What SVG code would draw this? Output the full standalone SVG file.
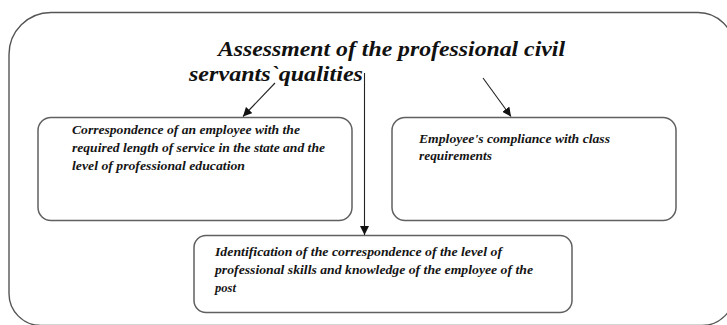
<svg xmlns="http://www.w3.org/2000/svg" width="727" height="325" viewBox="0 0 727 325">
  <style>
    .frame { fill: none; stroke: #555; stroke-width: 1.4; }
    .box { fill: #fff; stroke: #606060; stroke-width: 1.5; }
    .title { font-family: "Liberation Serif", "Times New Roman", serif; font-style: italic; font-weight: bold; font-size: 22px; fill: #111; }
    .label { font-family: "Liberation Serif", "Times New Roman", serif; font-style: italic; font-weight: bold; font-size: 13px; fill: #151515; }
    .conn { fill: none; stroke: #222; stroke-width: 1.1; }
  </style>
  <defs>
    <marker id="head" viewBox="0 0 10 10" refX="10" refY="5" markerWidth="9" markerHeight="9" markerUnits="userSpaceOnUse" orient="auto">
      <path d="M0,0 L10,5 L0,10 z" fill="#111"/>
    </marker>
  </defs>

  <rect width="727" height="325" fill="#fff"/>

  <!-- outer frame, running past the right and bottom edges -->
  <path class="frame" d="M 51 12.5 H 698 A 36 36 0 0 1 734 48.5 V 293.5 A 32 32 0 0 1 702 325.5 H 41 A 32 32 0 0 1 9 293.5 V 54.5 A 42 42 0 0 1 51 12.5 Z"/>

  <g id="title">
    <text class="title" x="218" y="56" textLength="347" lengthAdjust="spacingAndGlyphs">Assessment of the professional civil</text>
    <text class="title" x="189" y="81" textLength="174" lengthAdjust="spacingAndGlyphs">servants`qualities</text>
  </g>

  <g id="node-service">
    <rect class="box" x="38" y="117.5" width="314" height="103" rx="13"/>
    <text class="label" x="72" y="134" textLength="228" lengthAdjust="spacingAndGlyphs">Correspondence of an employee with the</text>
    <text class="label" x="72" y="152" textLength="253" lengthAdjust="spacingAndGlyphs">required length of service in the state and the</text>
    <text class="label" x="72" y="169.5" textLength="173" lengthAdjust="spacingAndGlyphs">level of professional education</text>
  </g>

  <g id="node-class">
    <rect class="box" x="392" y="117.5" width="284" height="103" rx="13"/>
    <text class="label" x="419" y="143" textLength="191" lengthAdjust="spacingAndGlyphs">Employee's compliance with class</text>
    <text class="label" x="419" y="160" textLength="73" lengthAdjust="spacingAndGlyphs">requirements</text>
  </g>

  <g id="node-skills">
    <rect class="box" x="194" y="235.5" width="378" height="77" rx="12"/>
    <text class="label" x="215" y="256" textLength="287" lengthAdjust="spacingAndGlyphs">Identification of the correspondence of the level of</text>
    <text class="label" x="215" y="274" textLength="318" lengthAdjust="spacingAndGlyphs">professional skills and knowledge of the employee of the</text>
    <text class="label" x="215" y="292" textLength="21" lengthAdjust="spacingAndGlyphs">post</text>
  </g>

  <g id="connectors">
    <line class="conn" x1="275" y1="83" x2="243" y2="116.5" marker-end="url(#head)"/>
    <line class="conn" x1="483" y1="78" x2="511" y2="116.5" marker-end="url(#head)"/>
    <line class="conn" x1="364.5" y1="73" x2="364.5" y2="235" marker-end="url(#head)"/>
  </g>
</svg>
